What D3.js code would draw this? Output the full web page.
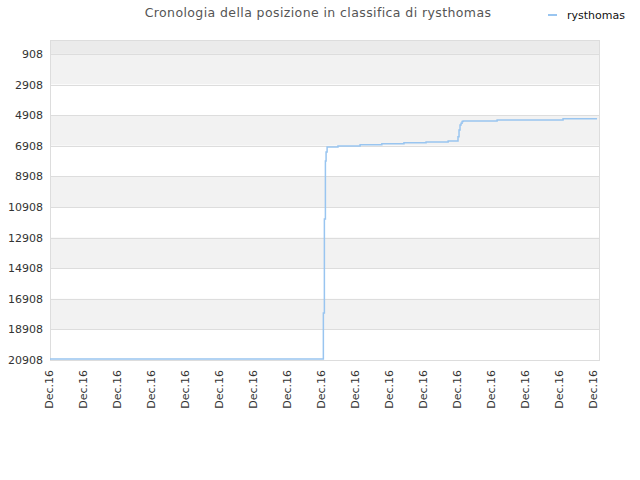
<!DOCTYPE html>
<html>
<head>
<meta charset="utf-8">
<script src="https://cdn.jsdelivr.net/npm/d3@7"></script>
<style>
  body { margin: 0; background: #fff; }
  svg text { font-family: "DejaVu Sans", sans-serif; }
</style>
</head>
<body>
<div id="chart"></div>
<script>
// tick labels on the x axis (all the same day)
const X_TICKS = d3.range(0, 17);
const X_LABELS = X_TICKS.map(() => "Dec.16");

// rank ticks
const Y_TICKS = [908, 2908, 4908, 6908, 8908, 10908, 12908, 14908, 16908, 18908, 20908];

// time (in tick units) and rank
const times = [0, 8.04, 8.07, 8.10, 8.12, 8.15, 8.47, 9.12, 9.76, 10.41, 11.06, 11.71,
               12.0, 12.03, 12.06, 12.09, 12.12, 12.15, 13.15, 15.09, 16.09];
const ranks = [20908, 17840, 11700, 7900, 7320, 6990, 6925, 6840, 6775, 6710, 6665, 6600,
               6320, 5880, 5550, 5440, 5330, 5290, 5225, 5140, 5140];

const SERIES = "rysthomas";
const TITLE = "Cronologia della posizione in classifica di rysthomas";

const W = 640, H = 480;
const margin = { top: 40, right: 40, bottom: 120, left: 50 };
const width = W - margin.left - margin.right;
const height = H - margin.top - margin.bottom;

const svg = d3.select("#chart").append("svg")
  .attr("width", W).attr("height", H);

// titolo
svg.append("text")
  .attr("x", 318).attr("y", 17)
  .attr("text-anchor", "middle")
  .attr("font-size", "12.5px")
  .attr("letter-spacing", "0.4px")
  .attr("fill", "#555")
  .text(TITLE);

// legenda
svg.append("line")
  .attr("x1", 548).attr("x2", 557).attr("y1", 15).attr("y2", 15)
  .attr("stroke", "#99c5f0").attr("stroke-width", 2);
svg.append("text")
  .attr("x", 567).attr("y", 18.5)
  .attr("font-size", "11px")
  .attr("fill", "#111")
  .text(SERIES);

const g = svg.append("g")
  .attr("transform", `translate(${margin.left},${margin.top})`);

const x = d3.scaleLinear().domain([0, 550 / 34]).range([0, width]);
const y = d3.scaleLinear().domain([0, 20908]).range([0, height]);

// bande alternate
const bands = [[0, Y_TICKS[0]]].concat(d3.pairs(Y_TICKS));
g.selectAll(".band")
  .data(bands)
  .enter().append("rect")
  .attr("x", 0).attr("width", width)
  .attr("y", d => y(d[0]))
  .attr("height", d => y(d[1]) - y(d[0]))
  .attr("fill", (d, i) => i === 0 ? "#ebebeb" : (i % 2 === 1 ? "#f2f2f2" : "#fff"));

// griglia
g.selectAll(".grid")
  .data(Y_TICKS)
  .enter().append("line")
  .attr("x1", 0).attr("x2", width)
  .attr("y1", d => Math.round(y(d)) + 0.5)
  .attr("y2", d => Math.round(y(d)) + 0.5)
  .attr("stroke", "#ddd");

// bordo
g.append("rect")
  .attr("x", 0.5).attr("y", 0.5)
  .attr("width", width - 1).attr("height", height)
  .attr("fill", "none").attr("stroke", "#ddd");

// asse y
const yAxis = g.append("g")
  .call(d3.axisLeft(y).tickValues(Y_TICKS).tickSize(0).tickPadding(7)
    .tickFormat(d => String(d)));
yAxis.select(".domain").remove();
yAxis.selectAll("text")
  .attr("font-size", "11px")
  .attr("font-family", "DejaVu Sans, sans-serif")
  .attr("fill", "#333");

// asse x
const xAxis = g.append("g")
  .attr("transform", `translate(0,${height})`)
  .call(d3.axisBottom(x).tickValues(X_TICKS).tickSize(0)
    .tickFormat((d, i) => X_LABELS[i]));
xAxis.select(".domain").remove();
xAxis.selectAll("text")
  .attr("font-size", "11px")
  .attr("font-family", "DejaVu Sans, sans-serif")
  .attr("fill", "#333")
  .attr("transform", "rotate(-90)")
  .attr("text-anchor", "end")
  .attr("dx", "-0.55em")
  .attr("dy", "-0.1em")
  .attr("y", 4)
  .attr("x", -4);

// linea
const pts = times.map((t, i) => [t, ranks[i]]);
g.append("path")
  .datum(pts)
  .attr("fill", "none")
  .attr("stroke", "#99c5f0")
  .attr("stroke-width", 1.5)
  .attr("d", d3.line()
    .x(d => x(d[0]))
    .y(d => Math.min(y(d[1]), height - 1))
    .curve(d3.curveStepAfter));
</script>
</body>
</html>
